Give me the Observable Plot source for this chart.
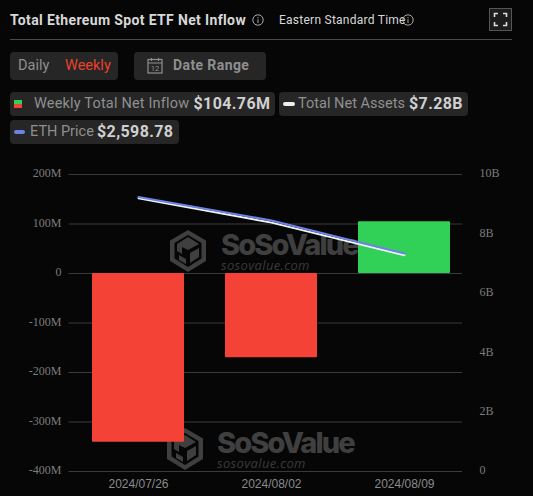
<!DOCTYPE html>
<html><head><meta charset="utf-8">
<script src="https://cdn.jsdelivr.net/npm/d3@7"></script>
<script src="https://cdn.jsdelivr.net/npm/@observablehq/plot@0.6"></script>
<style>
html,body{margin:0;padding:0;background:#060606;width:533px;height:496px;overflow:hidden}
#page{position:relative;width:533px;height:496px;font-family:Roboto,"Noto Sans",sans-serif;color:#ddd}
#header{position:relative;height:155px}
#header>*{position:absolute;white-space:nowrap}
.pill{background:#262626;border-radius:4px}
.lbl{color:#8f8f8f;font-size:14.5px;position:absolute;white-space:nowrap}
.val{color:#d0d0d0;font-size:16px;font-weight:700;position:absolute;white-space:nowrap;letter-spacing:.4px}
.wm{position:absolute;left:0;top:0;width:533px;height:496px}
#chart{position:absolute;left:0;top:155px}
#chart svg{background:transparent;display:block}
</style></head><body>
<div id="page">
<svg class="wm" id="wm"></svg>
<div id="header">
  <div style="left:10px;top:12px;font-size:14px;font-weight:700;color:#d8d8d8;letter-spacing:.36px" id="title">Total Ethereum Spot ETF Net Inflow</div>
  <svg style="left:252px;top:14px" width="12" height="12" viewBox="0 0 12 12"><circle cx="6" cy="6" r="5.2" fill="none" stroke="#aaa"/><path d="M6 5.2V9M6 3v1.1" stroke="#aaa"/></svg>
  <div style="left:273.500px;top:13px;font-size:12px;color:#d8d8d8;letter-spacing:.25px;left:279px">Eastern Standard Time</div>
  <svg style="left:402px;top:14px" width="12" height="12" viewBox="0 0 12 12"><circle cx="6" cy="6" r="5.2" fill="none" stroke="#aaa"/><path d="M6 5.2V9M6 3v1.1" stroke="#aaa"/></svg>
  <svg style="left:489px;top:8px" width="24" height="24" viewBox="0 0 24 24"><rect x=".5" y=".5" width="22" height="22" fill="#1d1d1d" stroke="#555"/><path d="M5.500 9V5.500H9M14 5.500h3.500V9M5.500 14v3.500H9M14 17.500h3.500V14" fill="none" stroke="#ddd" stroke-width="1.600"/></svg>
  <div style="left:10px;top:39px;width:502px;height:1px;background:#4a4a4a"></div>

  <div class="pill" style="left:10px;top:52px;width:107.500px;height:28px"></div>
  <div style="left:18px;top:57px;font-size:14.5px;color:#8f8f8f">Daily</div>
  <div style="left:65px;top:57px;font-size:14.5px;color:#e8432a">Weekly</div>
  <div class="pill" style="left:133.500px;top:52px;width:132px;height:28px"></div>
  <svg style="left:147px;top:57px" width="16" height="17" viewBox="0 0 16 17"><rect x="1" y="2.500" width="14" height="13.500" fill="none" stroke="#8f8f8f" stroke-width="1.200"/><path d="M1 6h14M4.500 1v3M11.500 1v3" stroke="#8f8f8f" stroke-width="1.200"/><text x="8" y="14" font-size="7.500" text-anchor="middle" fill="#8f8f8f" font-family="Roboto">12</text></svg>
  <div style="left:173px;top:57px;font-size:14px;font-weight:700;color:#8f8f8f;letter-spacing:.4px">Date Range</div>

  <div class="pill" style="left:10px;top:92px;width:264.500px;height:24px"></div>
  <div style="left:14px;top:100px;width:8px;height:4px;background:#31d158"></div>
  <div style="left:14px;top:104px;width:8px;height:4px;background:#f44336"></div>
  <div class="lbl" style="left:34px;top:95px;letter-spacing:.18px">Weekly Total Net Inflow</div>
  <div class="val" style="left:193.500px;top:94px">$104.76M</div>

  <div class="pill" style="left:278.500px;top:92px;width:189px;height:24px"></div>
  <div style="left:283px;top:102px;width:12px;height:4px;border-radius:2px;background:#eee"></div>
  <div class="lbl" style="left:298px;top:95px;letter-spacing:.02px">Total Net Assets</div>
  <div class="val" style="left:409px;top:94px">$7.28B</div>

  <div class="pill" style="left:10px;top:120px;width:169px;height:24px"></div>
  <div style="left:14px;top:130px;width:11px;height:4px;border-radius:2px;background:#6b82e6"></div>
  <div class="lbl" style="left:30px;top:123px">ETH Price</div>
  <div class="val" style="left:97px;top:122px">$2,598.78</div>
</div>
<div id="chart"></div>
</div>
<script>
// Values
const dates = ["2024/07/26", "2024/08/02", "2024/08/09"];
const netInflowM = [-341, -170, 104.76];
const netAssetsB = [9.2, 8.38, 7.28];
const ethPrice = [3272, 2992, 2598.78];
const inflowTicks = [-400, -300, -200, -100, 0, 100, 200];
const assetTicks = [0, 2, 4, 6, 8, 10];
const upColor = "#31d158", downColor = "#f44336";

// Right axes share the plot's vertical extent: 0 at the bottom, top at 10B / 3540 USD
const assetToY = b => -400 + b * 60;
const priceToY = p => -400 + p * 600 / 3540;

const inflowRows = dates.map((d, i) => ({d, v: netInflowM[i]}));
const assetRows = dates.map((d, i) => ({d, v: assetToY(netAssetsB[i])}));
const priceRows = dates.map((d, i) => ({d, v: priceToY(ethPrice[i])}));
const fmtM = v => v === 0 ? "0" : v + "M";

const plot = Plot.plot({
  width: 533, height: 341,
  marginLeft: 70, marginRight: 62, marginTop: 19, marginBottom: 25,
  style: {background: "transparent", overflow: "visible"},
  x: {type: "band", domain: dates, paddingInner: 0.31, paddingOuter: 0.155, align: 0.5, label: null},
  y: {domain: [-400, 200], label: null},
  marks: [
    Plot.ruleY(inflowTicks, {stroke: "#3a3a3a", strokeWidth: 1, insetLeft: -1.500, insetRight: 9}),
    Plot.barY(inflowRows, {x: "d", y: "v", fill: r => r.v >= 0 ? upColor : downColor, rx: 1}),
    Plot.axisY({anchor: "left", ticks: inflowTicks, tickSize: 0, tickPadding: 9, dy: -1, tickFormat: fmtM, label: null,
      fill: "#7c7c7c", fontFamily: "Liberation Serif", fontSize: 12}),
    Plot.axisY({anchor: "right", ticks: assetTicks.map(assetToY), tickSize: 0, tickPadding: 8, dy: -1,
      tickFormat: v => { const b = Math.round((v + 400) / 60); return b === 0 ? "0" : b + "B"; }, label: null,
      fill: "#7c7c7c", fontFamily: "Liberation Serif", fontSize: 12}),
    Plot.axisX({domain: dates, tickSize: 0, tickPadding: 8, label: null,
      fill: "#8a8a8a", fontFamily: "Liberation Sans", fontSize: 12}),
    Plot.line(assetRows, {x: "d", y: "v", stroke: "#f2f2f2", strokeWidth: 2}),
    Plot.line(priceRows, {x: "d", y: "v", stroke: "#6b82e6", strokeWidth: 2})
  ]
});
document.getElementById("chart").append(plot);

// Watermark, behind the chart
const wm = d3.select("#wm");
function mark(x, y, textX) {
  const g = wm.append("g").attr("transform", `translate(${x},${y})`);
  g.append("path").attr("d", "M18 0L36 10.500V31L18 42L0 31V10.500Z M18 5L4.500 13V28.500L18 37L31.500 28.500V13Z")
    .attr("fill", "#3f3f3f").attr("fill-rule", "evenodd");
  g.append("path").attr("d", "M18 7L29 14L18 20L12 17V24L7 21V14Z M20 23L29 18V27L20 33Z M9 25L16 29V34L9 30Z")
    .attr("fill", "#3f3f3f");
  g.append("text").attr("x", textX).attr("y", 25).attr("fill", "#3f3f3f")
    .attr("font-family", "Inter,Roboto").attr("font-weight", 800).attr("font-size", 29).attr("letter-spacing", -1.900).text("SoSoValue");
  g.append("text").attr("x", textX).attr("y", 40).attr("fill", "#3a3a3a")
    .attr("font-family", "Open Sans,Roboto").attr("font-style", "italic").attr("font-size", 13).attr("letter-spacing", .35).text("sosovalue.com");
}
mark(170, 230, 51);
mark(167, 428, 50);
</script>
</body></html>
